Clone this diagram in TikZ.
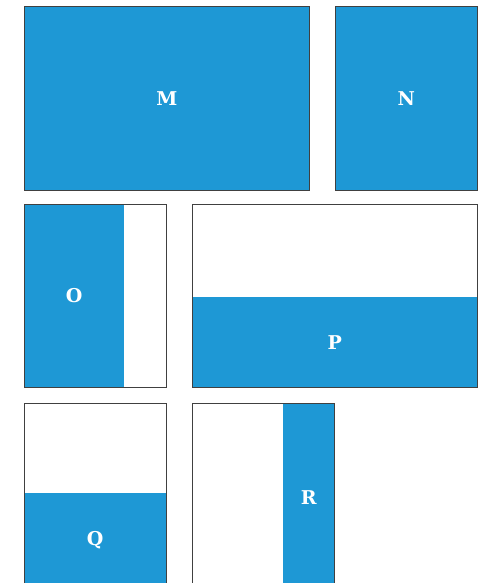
\documentclass[tikz,border=0pt]{standalone}
\usepackage{fontspec}
\setmainfont{DejaVu Serif}
\usepackage{tikz}
\usetikzlibrary{positioning}
\definecolor{tileblue}{RGB}{30,152,213}

\begin{document}
\begin{tikzpicture}[
        x=1pt, y=-1pt,
        part/.style={rectangle, fill=tileblue, anchor=north west, inner sep=0pt, text=white, font=\bfseries\fontsize{19}{22}\selectfont},
        frame/.style={rectangle, draw=black!75, line width=0.8pt, anchor=north west, inner sep=0pt},
        ]
        \useasboundingbox (0,0) rectangle (478,583);
        \clip (0,0) rectangle (478,583);

        % Full tiles
        \node (M) [part, draw=black!75, line width=0.8pt, minimum width=285pt, minimum height=184pt] at (24,6) {M};
        \node (N) [part, draw=black!75, line width=0.8pt, minimum width=142pt, minimum height=184pt] at (335,6) {N};

        % Partial tiles (blue part first, frame on top)
        \node (O) [part, minimum width=100pt, minimum height=183pt] at (24,204) {O};
        \node (oFrame) [frame, minimum width=142pt, minimum height=183pt] at (24,204) {};

        \node (P) [part, minimum width=285pt, minimum height=90pt] at (192,297) {P};
        \node (pFrame) [frame, minimum width=285pt, minimum height=183pt] at (192,204) {};

        \node (Q) [part, minimum width=142pt, minimum height=94pt] at (24,493) {Q};
        \node (qFrame) [frame, minimum width=142pt, minimum height=190pt] at (24,403) {};

        \node (R) [part, minimum width=51pt, minimum height=188pt] at (283,403) {R};
        \node (rFrame) [frame, minimum width=142pt, minimum height=190pt] at (192,403) {};

    \end{tikzpicture}
\end{document}
